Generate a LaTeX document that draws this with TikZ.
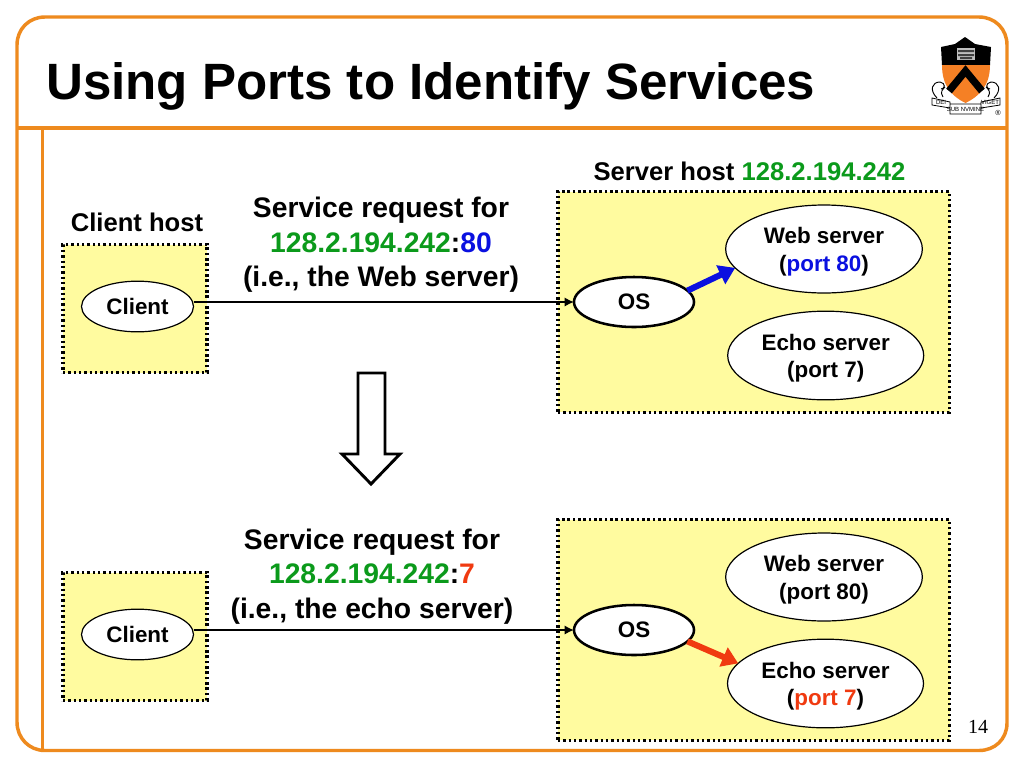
\documentclass[tikz,border=0pt]{standalone}
\usepackage{fontspec}
\setmainfont{Liberation Sans}
\newfontfamily\serifnum{Liberation Serif}
\usetikzlibrary{arrows.meta,calc,shapes.geometric}
\definecolor{frameorange}{HTML}{EE8A1E}
\definecolor{hostyellow}{HTML}{FFFB9F}
\definecolor{ipgreen}{HTML}{0B9A1B}
\definecolor{portblue}{HTML}{0A10E0}
\definecolor{portred}{HTML}{F03A10}
\definecolor{shieldorange}{HTML}{F58025}
\newcommand\lowerline{\rule{0pt}{16pt}}
\tikzset{
  x=0.75pt,y=-0.75pt,
  framepart/.style={draw=frameorange,line width=2.6pt},
  hostbox/.style={draw=black,fill=hostyellow,line width=2.3pt,dash pattern=on 1.8pt off 2.2pt,inner sep=0pt,outer sep=0pt},
  proc/.style={draw=black,fill=white,ellipse,line width=0.9pt,inner sep=0pt,outer sep=0pt,font=\bfseries\fontsize{16.8}{20.5}\selectfont,align=center,text=black},
  osnode/.style={proc,line width=1.9pt},
  lbl/.style={font=\bfseries\fontsize{21.2}{25.8}\selectfont,align=center,inner sep=0pt},
  hostlbl/.style={font=\bfseries\fontsize{19.2}{22}\selectfont,inner sep=0pt},
  link/.style={draw=black,line width=1.9pt,-{Latex[length=7pt,width=7pt]}},
  portarrow/.style={line width=4.6pt,-{Triangle[length=12pt,width=15pt]}},
  crestlbl/.style={font=\fontsize{4.5}{4.5}\selectfont,inner sep=0pt},
}
\begin{document}
\begin{tikzpicture}
\useasboundingbox (0,0) rectangle (1024,768);
\fill[white] (0,0) rectangle (1024,768);
% frame
\draw[framepart] (45,750.5) .. controls (29,750.5) and (17,738) .. (17,722) -- (17,45) .. controls (17,29) and (29,17) .. (45,17) -- (979,17) .. controls (995,17) and (1007,29) .. (1007,45) -- (1007,723) .. controls (1007,739) and (995,750.5) .. (979,750.5) -- cycle;
\draw[framepart] (17,128) -- (1007,128);
\draw[framepart] (42.5,128) -- (42.5,750);
\node[anchor=base west,inner sep=0pt,font=\bfseries\fontsize{38.3}{40}\selectfont] (title) at (46,99) {Using Ports to Identify Services};
% crest
\fill[black] (941,47) -- (955,44) -- (965,37) -- (975,44) -- (991,47) -- (990,65) -- (942,65) -- cycle;
\fill[shieldorange] (942,65) -- (990,65) .. controls (990,85) and (980,96) .. (965.5,103) .. controls (951,96) and (942,85) .. (942,65) -- cycle;
\draw[black,line width=5.5pt] (949,91) -- (965.5,71) -- (982,91);
\fill[black!25] (957,48) rectangle (975,60);
\fill[black!75] (958,50) rectangle (974,52) (958,54) rectangle (974,56) (960,57) rectangle (972,59);
\draw[black,line width=.6pt,fill=white] (932,98) -- (950,102) -- (950,108) -- (932,105) -- cycle (1000,98) -- (981,102) -- (981,108) -- (1000,105) -- cycle (950,104) -- (981,104) -- (981,114) -- (950,114) -- cycle;
\draw[black,line width=.7pt] (937,98) .. controls (929,90) and (932,82) .. (940,82) .. controls (946,83) and (945,89) .. (941,89) (943,97) .. controls (940,92) and (942,90) .. (945,87) (994,98) .. controls (1002,90) and (999,82) .. (991,82) .. controls (985,83) and (986,89) .. (990,89) (988,97) .. controls (991,92) and (989,90) .. (986,87);
\node[crestlbl] (dei) at (941,102) {DEI};
\node[crestlbl] (sub) at (965.5,109.5) {SUB NVMINE};
\node[crestlbl] (viget) at (990,102) {VIGET};
\node[font=\fontsize{5.5}{5.5}\selectfont,inner sep=0pt] (reg) at (998,113) {®};
% hosts
\node[hostbox,minimum width=108pt,minimum height=96pt] (c1) at (135,308.5) {};
\node[hostbox,minimum width=108pt,minimum height=96pt] (c2) at (135,636.5) {};
\node[hostbox,minimum width=293.75pt,minimum height=165.4pt] (s1) at (753.85,302) {};
\node[hostbox,minimum width=293.75pt,minimum height=165.4pt] (s2) at (753.85,630) {};
% labels
\node[hostlbl] (chost) at (137,222) {Client host};
\node[hostlbl] (shost) at (749.5,171) {Server host \textcolor{ipgreen}{128.2.194.242}};
\node[lbl] (req1) at (381,245) {Service request for\\\textcolor{ipgreen}{128.2.194.242}:\textcolor{portblue}{80}\\(i.e., the Web server)};
\node[lbl] (req2) at (372,576.5) {Service request for\\\textcolor{ipgreen}{128.2.194.242}:\textcolor{portred}{7}\\(i.e., the echo server)};
% ellipses
\node[proc,minimum width=84pt,minimum height=38pt] (cl1) at (137.5,306.5) {Client};
\node[proc,minimum width=84pt,minimum height=38pt] (cl2) at (137.5,634.5) {Client};
\node[osnode,minimum width=90pt,minimum height=37.5pt] (os1) at (634,302) {OS};
\node[osnode,minimum width=90pt,minimum height=37.5pt] (os2) at (634,630) {OS};
\node[proc,minimum width=147.5pt,minimum height=66pt] (web1) at (824,249) {\lowerline Web server\\(\textcolor{portblue}{port 80})};
\node[proc,minimum width=147pt,minimum height=66.5pt] (echo1) at (825.7,355.5) {\lowerline Echo server\\(port 7)};
\node[proc,minimum width=147.5pt,minimum height=66pt] (web2) at (824,577) {\lowerline Web server\\(port 80)};
\node[proc,minimum width=147pt,minimum height=66.5pt] (echo2) at (825.5,683.5) {\lowerline Echo server\\(\textcolor{portred}{port 7})};
% connectors
\draw[link] (cl1.east |- os1.west) -- (os1.west);
\draw[link] (cl2.east |- os2.west) -- (os2.west);
\draw[portarrow,draw=portblue,fill=portblue] (os1.12.5) -- (web1.192.7);
\draw[portarrow,draw=portred,fill=portred] (os2.-12.3) -- (echo2.167.2);
% block arrow
\node[font=\serifnum\fontsize{15}{18}\selectfont,inner sep=0pt] (pg) at (978,727) {14};
\draw[black,line width=2.2pt,fill=white] (358,373) -- (385,373) -- (385,454) -- (400,454) -- (371,484) -- (342,454) -- (358,454) -- cycle;
\end{tikzpicture}
\end{document}
